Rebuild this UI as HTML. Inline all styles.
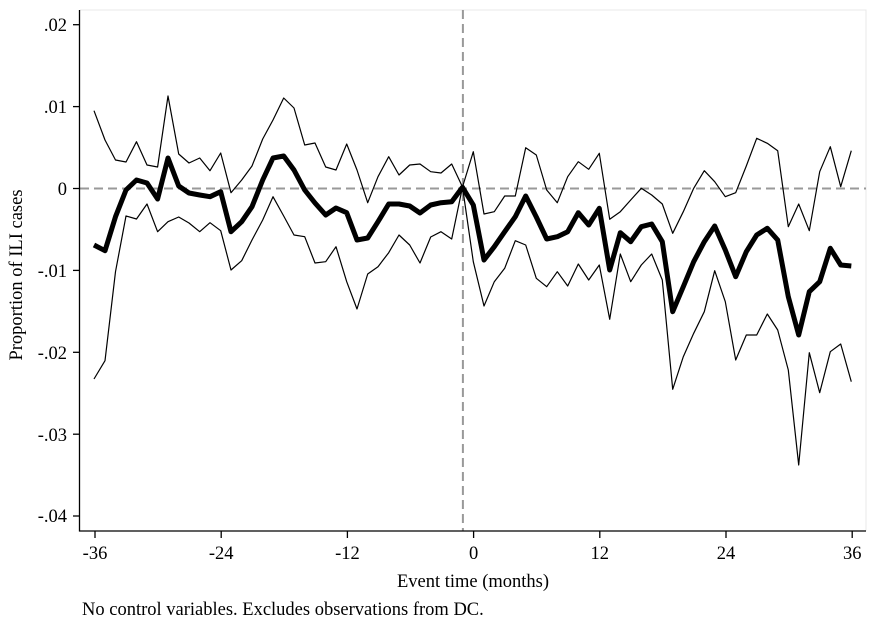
<!DOCTYPE html>
<html><head><meta charset="utf-8"><style>
html,body{margin:0;padding:0;background:#fff;}
svg{display:block;font-family:"Liberation Serif",serif;}
</style></head><body>
<svg width="873" height="628" viewBox="0 0 873 628">
<rect x="0" y="0" width="873" height="628" fill="#fff"/>
<polyline points="80,10 866,10 866,531" fill="none" stroke="#e8e8e8" stroke-width="1"/>
<line x1="80" y1="188.5" x2="866" y2="188.5" stroke="#999" stroke-width="2" stroke-dasharray="9,5"/>
<line x1="462.9" y1="10" x2="462.9" y2="531" stroke="#999" stroke-width="2" stroke-dasharray="9,5"/>
<g fill="none" stroke="#000" stroke-linejoin="round">
<polyline stroke-width="1.2" points="94,110.7 105,140 115.5,160 126,162 136.5,141.7 147,165 157.6,167 168,96 178.7,154 189,163 199.7,158 210,170.7 220.7,153 231,192.7 241.7,180 252,166 262.7,139 273,120 283.7,98 294,108 304.7,145 315,143 325.7,167 336,170 346.7,144 357,170 367.7,202.7 378,176.7 388.7,156.7 399,175 409.7,165 420,164 430.7,171.7 441,173 451.7,164 462.5,187 473.3,151.7 484,214 494.3,211.7 504.7,196 515.3,196 525.7,147.7 536.3,155 546.7,190 557.3,202.7 567.7,176.7 578.3,161.7 588.7,169.3 599.3,153.3 609.7,219.3 620.3,211.7 630.7,200 641.3,188.3 651.7,195 662.3,204 672.7,233.3 683.3,211.7 693.7,188.3 704.3,170.7 714.7,181.7 725.3,196.7 735.7,192.7 746.3,166 756.7,138.3 767.3,143.3 777.7,150.7 788.3,226.7 798.7,204 809.3,230.7 819.7,171.7 830.3,146.7 840.7,186.7 851.3,150.7"/>
<polyline stroke-width="1.2" points="94,379 105,360.7 115.5,271.7 126,216 136.5,219 147,204 157.6,231.7 168,221.7 178.7,217 189,223 199.7,231.7 210,222.7 220.7,230.7 231,270 241.7,260.7 252,240 262.7,220 273,196.7 283.7,216 294,235 304.7,236.7 315,263 325.7,261.7 336,246.7 346.7,281.7 357,309 367.7,274 378,266.7 388.7,252.7 399,235 409.7,245 420,263 430.7,237 441,231.7 451.7,239 462.5,187 473.3,261.7 484,306 494.3,281.7 504.7,268.3 515.3,240.7 525.7,245 536.3,278.3 546.7,286.7 557.3,271.7 567.7,286 578.3,264 588.7,280 599.3,265 609.7,319.3 620.3,254 630.7,281.7 641.3,265 651.7,254 662.3,280 672.7,389.3 683.3,356.7 693.7,333.3 704.3,311.7 714.7,270.7 725.3,301.7 735.7,360 746.3,335 756.7,335 767.3,314 777.7,330 788.3,370 798.7,465 809.3,352.7 819.7,392.7 830.3,351.7 840.7,344 851.3,381.7"/>
<polyline stroke-width="5" points="94,245 105,250.7 115.5,216.7 126,190 136.5,180 147,183 157.6,199 168,158 178.7,186 189,193 199.7,195 210,196.7 220.7,191.7 231,231.7 241.7,221.7 252,206.7 262.7,180 273,158 283.7,156 294,170 304.7,190 315,203 325.7,215 336,208 346.7,212.7 357,240 367.7,238 378,221.7 388.7,204 399,204 409.7,206 420,213 430.7,205 441,202.7 451.7,201.7 462.5,187.3 473.3,205 484,260 494.3,246.7 504.7,231.7 515.3,216.7 525.7,196 536.3,217 546.7,239 557.3,236.7 567.7,231.7 578.3,212.7 588.7,225 599.3,208.3 609.7,270 620.3,232.7 630.7,241.7 641.3,226.7 651.7,224 662.3,241.7 672.7,311.7 683.3,286.7 693.7,261.7 704.3,241.7 714.7,226 725.3,250 735.7,276.7 746.3,251.7 756.7,235 767.3,228.3 777.7,240 788.3,296.7 798.7,335 809.3,291.7 819.7,281.7 830.3,248.3 840.7,265 851.3,266"/>
</g>
<g stroke="#000" stroke-width="1.3">
<line x1="79.5" y1="10" x2="79.5" y2="531.5"/>
<line x1="79" y1="531" x2="866" y2="531"/>
<line x1="73" y1="24.7" x2="79.5" y2="24.7"/>
<line x1="73" y1="106.6" x2="79.5" y2="106.6"/>
<line x1="73" y1="188.5" x2="79.5" y2="188.5"/>
<line x1="73" y1="270.4" x2="79.5" y2="270.4"/>
<line x1="73" y1="352.3" x2="79.5" y2="352.3"/>
<line x1="73" y1="434.2" x2="79.5" y2="434.2"/>
<line x1="73" y1="516" x2="79.5" y2="516"/>
<line x1="95" y1="531" x2="95" y2="538"/>
<line x1="221.2" y1="531" x2="221.2" y2="538"/>
<line x1="347.4" y1="531" x2="347.4" y2="538"/>
<line x1="473.6" y1="531" x2="473.6" y2="538"/>
<line x1="599.8" y1="531" x2="599.8" y2="538"/>
<line x1="726" y1="531" x2="726" y2="538"/>
<line x1="852.2" y1="531" x2="852.2" y2="538"/>
</g>
<g font-size="18.5" fill="#000" text-anchor="end">
<text x="67" y="31">.02</text>
<text x="67" y="113">.01</text>
<text x="67" y="195">0</text>
<text x="67" y="277">-.01</text>
<text x="67" y="359">-.02</text>
<text x="67" y="441">-.03</text>
<text x="67" y="522">-.04</text>
</g>
<g font-size="18.5" fill="#000" text-anchor="middle">
<text x="95" y="559">-36</text>
<text x="221.2" y="559">-24</text>
<text x="347.4" y="559">-12</text>
<text x="473.6" y="559">0</text>
<text x="599.8" y="559">12</text>
<text x="726" y="559">24</text>
<text x="852.2" y="559">36</text>
<text x="473" y="587" font-size="18.5">Event time (months)</text>
<text transform="translate(22,275) rotate(-90)" font-size="18.5">Proportion of ILI cases</text>
</g>
<text x="82" y="615" font-size="18.5" fill="#000">No control variables. Excludes observations from DC.</text>
</svg>
</body></html>
